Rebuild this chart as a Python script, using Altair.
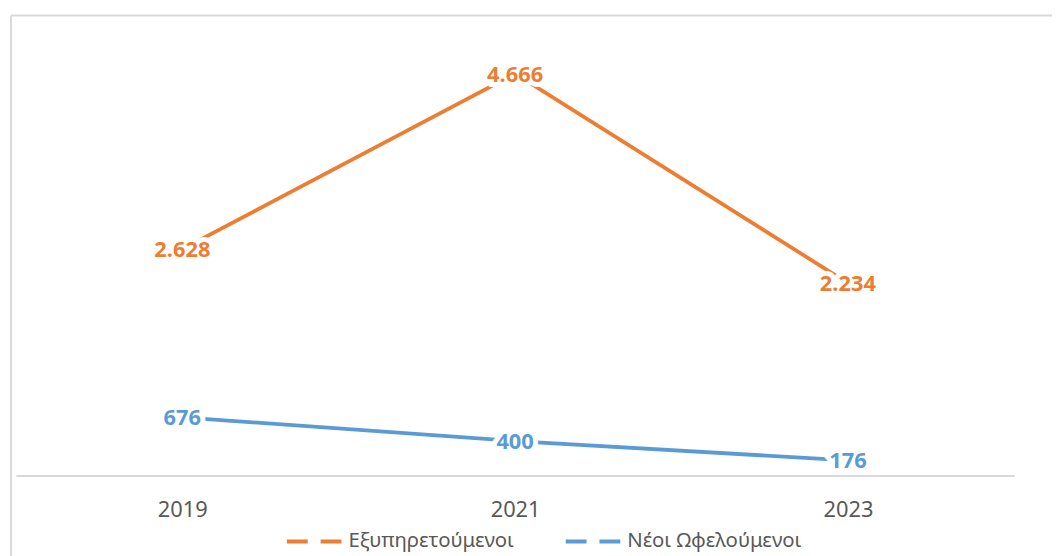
import altair as alt
import pandas as pd

years = ["2019", "2021", "2023"]
served = [2628, 4666, 2234]
new_beneficiaries = [676, 400, 176]
series_names = ["Εξυπηρετούμενοι", "Νέοι Ωφελούμενοι"]
series_colors = ["#ED7D31", "#5B9BD5"]

rows = []
for yr, v in zip(years, served):
    rows.append({"year": yr, "series": series_names[0], "value": v})
for yr, v in zip(years, new_beneficiaries):
    rows.append({"year": yr, "series": series_names[1], "value": v})
df = pd.DataFrame(rows)

FONT = "Noto Sans"
W, H = 1006, 434

x_enc = alt.X(
    "year:N",
    sort=years,
    scale=alt.Scale(type="point", padding=0.5),
    axis=alt.Axis(
        title=None, ticks=False, labelAngle=0, labelFont=FONT, labelFontSize=22,
        labelColor="#595959", labelPadding=24, domainColor="#d9d9d9",
        domainWidth=2, grid=False,
    ),
)
y_enc = alt.Y("value:Q", scale=alt.Scale(domain=[0, 5000], nice=False), axis=None)

base = alt.Chart(df).encode(x=x_enc, y=y_enc)

lines = base.mark_line(strokeWidth=3.8, strokeCap="round").encode(
    color=alt.Color(
        "series:N",
        scale=alt.Scale(domain=series_names, range=series_colors),
        legend=alt.Legend(
            title=None, orient="none", legendX=271, legendY=471,
            direction="horizontal", symbolType="stroke", symbolSize=3025,
            symbolStrokeWidth=4, symbolDash=[21, 13], labelFont=FONT,
            labelFontSize=20.5, labelColor="#595959", labelOffset=5,
            labelLimit=400, columnPadding=44, padding=0,
        ),
    )
)

labeled = base.transform_calculate(
    label="replace(format(datum.value, ','), ',', '.')"
)

halo = labeled.mark_text(
    font=FONT, fontSize=22, fontWeight="bold", fill="white", stroke="white",
    strokeWidth=10, align="center", baseline="middle", dy=1,
).encode(text="label:N")

texts = labeled.mark_text(
    font=FONT, fontSize=22, fontWeight="bold", align="center",
    baseline="middle", dy=1,
).encode(
    text="label:N",
    fill=alt.Fill("series:N", scale=alt.Scale(domain=series_names, range=series_colors), legend=None),
)

frame_df = pd.DataFrame({"k": [0]})
frame_top = alt.Chart(frame_df).mark_rule(color="#d9d9d9", strokeWidth=2).encode(
    x=alt.value(-5), x2=alt.value(1200), y=alt.value(-29.5)
)
frame_left = alt.Chart(frame_df).mark_rule(color="#d9d9d9", strokeWidth=2).encode(
    x=alt.value(-5), y=alt.value(-29.5), y2=alt.value(700)
)

chart = alt.layer(frame_top, frame_left, lines, halo, texts).properties(
    width=W, height=H,
    autosize=alt.AutoSizeParams(type="none"),
    padding={"left": 8, "top": 35, "right": 38, "bottom": 79},
).configure(background="white").configure_view(stroke=None)

chart.save("out.html", embed_options={"renderer": "svg", "actions": False})
